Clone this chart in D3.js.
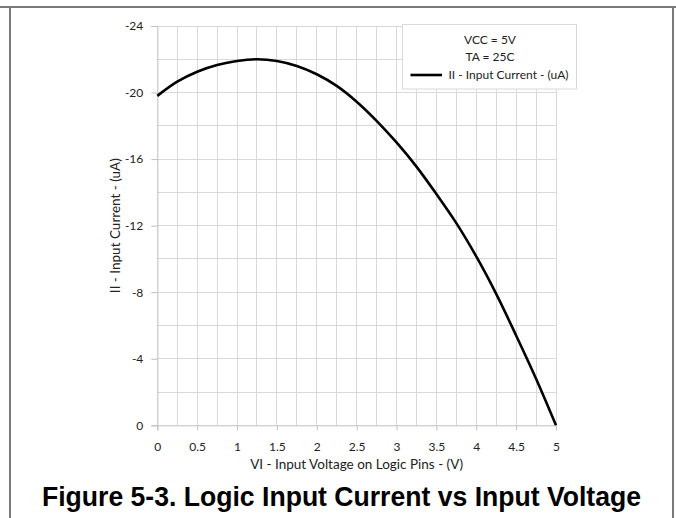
<!DOCTYPE html>
<html>
<head>
<meta charset="utf-8">
<script src="https://cdn.jsdelivr.net/npm/d3@7"></script>
<style>
  html, body { margin: 0; padding: 0; background: #fff; }
  svg { display: block; }
</style>
</head>
<body>
<svg id="chart" width="676" height="518"></svg>
<script>
// Input voltage (V) and measured input current (uA)
const voltage = [0, 0.25, 0.5, 0.75, 1.0, 1.25, 1.5, 1.75, 2.0, 2.25, 2.5,
                 2.75, 3.0, 3.25, 3.5, 3.75, 4.0, 4.25, 4.5, 4.75, 5.0];
const current = [-19.8, -20.65, -21.25, -21.65, -21.9, -22.0, -21.9, -21.6, -21.1, -20.4, -19.45,
                 -18.3, -17.0, -15.55, -13.9, -12.15, -10.15, -7.9, -5.4, -2.8, 0];
const xTickLabels = [0, 0.5, 1, 1.5, 2, 2.5, 3, 3.5, 4, 4.5, 5];
const yTickLabels = [0, -4, -8, -12, -16, -20, -24];
const legendNotes = ["VCC = 5V", "TA = 25C"];
const seriesName = "II - Input Current - (uA)";

const svg = d3.select("#chart");
const font = "Lato, 'Open Sans', sans-serif";

const x = d3.scaleLinear().domain([0, 5]).range([157.3, 556]);
const y = d3.scaleLinear().domain([0, -24]).range([425.3, 26]);

// page frame
const frame = svg.append("g").attr("stroke", "#7a7a7a").attr("stroke-width", 2).attr("fill", "none");
frame.append("line").attr("x1", 0).attr("x2", 676).attr("y1", 7).attr("y2", 7);
frame.append("line").attr("x1", 10).attr("x2", 10).attr("y1", 6).attr("y2", 518);
frame.append("line").attr("x1", 673).attr("x2", 673).attr("y1", 6).attr("y2", 518);

// gridlines: minor every 0.25 V and every 2 uA
const grid = svg.append("g").attr("stroke", "#d9d9d9").attr("stroke-width", 1).attr("shape-rendering", "crispEdges");
grid.selectAll(".vx").data(d3.range(1, 21).map(i => i * 0.25)).join("line")
  .attr("x1", d => x(d)).attr("x2", d => x(d)).attr("y1", y(-24)).attr("y2", y(0));
grid.selectAll(".hy").data(d3.range(1, 13).map(i => -i * 2)).join("line")
  .attr("x1", x(0)).attr("x2", x(5)).attr("y1", d => y(d)).attr("y2", d => y(d));

// axes (plain hyphen for negative labels)
const yAxis = d3.axisLeft(y).tickValues(yTickLabels).tickSize(6).tickPadding(8).tickFormat(d => String(d));
const xAxis = d3.axisBottom(x).tickValues(xTickLabels).tickSize(5).tickPadding(12).tickFormat(d => String(d));

const gy = svg.append("g").attr("transform", `translate(${x(0)},0)`).call(yAxis);
const gx = svg.append("g").attr("transform", `translate(0,${y(0)})`).call(xAxis);
[gx, gy].forEach(g => {
  g.select(".domain").attr("stroke", "#bfbfbf");
  g.selectAll(".tick line").attr("stroke", "#bfbfbf");
  g.selectAll("text").attr("font-family", font).attr("font-size", 12).attr("fill", "#222");
});

// axis titles
svg.append("text").attr("x", (x(0) + x(5)) / 2).attr("y", 469)
  .attr("text-anchor", "middle").attr("font-family", font).attr("font-size", 13.5).attr("fill", "#222")
  .text("VI - Input Voltage on Logic Pins - (V)");
svg.append("text").attr("transform", `translate(120,${(y(0) + y(-24)) / 2}) rotate(-90)`)
  .attr("text-anchor", "middle").attr("font-family", font).attr("font-size", 13.5).attr("fill", "#222")
  .text("II - Input Current - (uA)");

// curve
const data = voltage.map((v, i) => ({ v, c: current[i] }));
svg.append("path").datum(data)
  .attr("fill", "none").attr("stroke", "#000").attr("stroke-width", 2.6)
  .attr("stroke-linejoin", "round")
  .attr("d", d3.line().x(d => x(d.v)).y(d => y(d.c)).curve(d3.curveCatmullRom.alpha(0.5)));

// legend
const lg = svg.append("g");
lg.append("rect").attr("x", 402.5).attr("y", 24.5).attr("width", 174).attr("height", 64.5)
  .attr("fill", "#fff").attr("stroke", "#d9d9d9");
legendNotes.forEach((t, i) => {
  lg.append("text").attr("x", 490).attr("y", 44 + i * 16.5).attr("text-anchor", "middle")
    .attr("font-family", font).attr("font-size", 12).attr("fill", "#222").text(t);
});
lg.append("line").attr("x1", 410.5).attr("x2", 442).attr("y1", 75).attr("y2", 75)
  .attr("stroke", "#000").attr("stroke-width", 2.6);
lg.append("text").attr("x", 448.5).attr("y", 79.2).attr("font-family", font).attr("font-size", 12)
  .attr("fill", "#222").text(seriesName);

// figure caption
svg.append("text").attr("x", 341.5).attr("y", 506).attr("text-anchor", "middle")
  .attr("font-family", "'Liberation Sans', Arial, sans-serif").attr("font-weight", "bold")
  .attr("font-size", 28).attr("fill", "#000")
  .attr("textLength", 599).attr("lengthAdjust", "spacingAndGlyphs")
  .text("Figure 5-3. Logic Input Current vs Input Voltage");
</script>
</body>
</html>
